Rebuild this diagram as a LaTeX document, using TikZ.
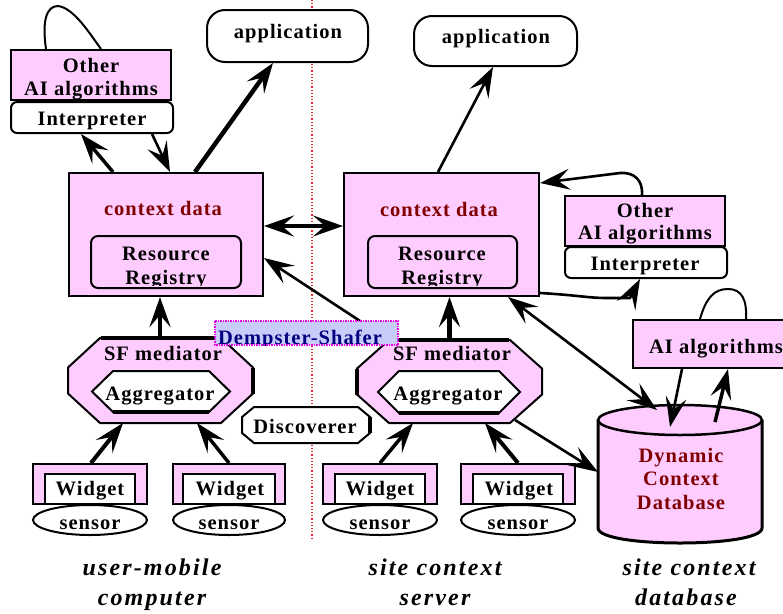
\documentclass[tikz,border=0pt]{standalone}
\usepackage{fontspec}
\setmainfont{Liberation Serif}
\newfontfamily\boxfont[LetterSpace=5]{Liberation Serif}
\newfontfamily\tierfont[LetterSpace=9]{Liberation Serif}
\usetikzlibrary{arrows.meta,shapes.geometric}

\definecolor{boxpink}{RGB}{255,204,255}
\definecolor{txtred}{RGB}{128,0,0}
\definecolor{dslav}{RGB}{200,204,248}
\definecolor{dsblue}{RGB}{0,0,128}
\definecolor{dsedge}{RGB}{230,0,230}
\definecolor{divred}{RGB}{235,40,40}

% octagon drawn on the border of a (blank) named node
\newcommand\octagonpath[4]{%
  \path[#4] ([xshift=#2]#1.north west) -- ([xshift=-#2]#1.north east)
   -- ([yshift=-#3]#1.north east) -- ([yshift=#3]#1.south east)
   -- ([xshift=-#2]#1.south east) -- ([xshift=#2]#1.south west)
   -- ([yshift=#3]#1.south west) -- ([yshift=-#3]#1.north west) -- cycle;}

\tikzset{
  lbl/.style={font=\boxfont\bfseries\fontsize{20.5}{24}\selectfont, anchor=base, inner sep=0pt},
  redlbl/.style={lbl, text=txtred},
  tierlbl/.style={font=\tierfont\bfseries\itshape\fontsize{24}{28}\selectfont, anchor=base, inner sep=0pt},
  pinkbox/.style={draw=black, line width=2pt, fill=boxpink},
  whitebox/.style={draw=black, line width=2pt, fill=white},
  zone/.style={draw=none, inner sep=0pt, outer sep=0pt},
  arr/.style={-{Stealth[length=30pt,width=21pt,inset=12pt]}, line width=2.6pt},
  darr/.style={{Stealth[length=30pt,width=21pt,inset=12pt]}-{Stealth[length=30pt,width=21pt,inset=12pt]}, line width=2.6pt},
  thin loop/.style={line width=2pt},
}

\begin{document}
\begin{tikzpicture}[x=1pt,y=-1pt]
\useasboundingbox[fill=white] (0,0) rectangle (783,613);

% tier divider
\draw[divred, dotted, line width=1.2pt] (312,0) -- (312,540);

% ---------------- user-mobile computer ----------------
\node[pinkbox, minimum width=160pt, minimum height=50pt] (oaiL) at (91,75) {};
\node[whitebox, rounded corners=6pt, minimum width=162pt, minimum height=31pt] (intL) at (92,117.5) {};
\node[lbl] (oaiLa) at (91,72) {Other};
\node[lbl] (oaiLb) at (91,95) {AI algorithms};
\node[lbl] (intLt) at (92,125) {Interpreter};
\draw[thin loop] ([xshift=36pt]oaiL.north west) .. controls (42,22) and (46,6) .. (58,6)
  .. controls (74,8) and (90,34) .. ([xshift=91pt]oaiL.north west);

\node[whitebox, rounded corners=18pt, minimum width=161pt, minimum height=52pt] (appL) at (287.5,36) {};
\node[lbl] (appLt) at (288,38) {application};

\node[pinkbox, minimum width=194pt, minimum height=123pt] (cdL) at (166,234.5) {};
\node[pinkbox, rounded corners=7pt, minimum width=150pt, minimum height=52pt] (rrL) at (166,262) {};
\node[redlbl] (cdLt) at (163,215) {context data};
\node[lbl] (rrLa) at (166,260) {Resource};
\begin{scope}
  \clip (91,236) rectangle (241,285);
  \node[lbl] (rrLb) at (166,284) {Registry};
\end{scope}

\node[zone, minimum width=185pt, minimum height=85pt] (sfL) at (160.5,380.5) {};
\octagonpath{sfL}{32pt}{29.5pt}{pinkbox}
\draw[line width=4.5pt] ([xshift=33pt]sfL.north west) -- ([xshift=-33pt]sfL.north east);
\draw[line width=4.5pt] ([yshift=-29.5pt]sfL.north east) -- ([yshift=29.5pt]sfL.south east);
\node[zone, minimum width=138pt, minimum height=41pt] (agL) at (161,391.5) {};
\octagonpath{agL}{21pt}{20.5pt}{whitebox}
\draw[line width=4.5pt] ([xshift=21pt]agL.south west) -- ([xshift=-21pt]agL.south east);
\node[lbl] (sfLt) at (163,360) {SF mediator};
\node[lbl] (agLt) at (160,400) {Aggregator};

\node[pinkbox, minimum width=114pt, minimum height=40pt] (w1) at (90,484) {};
\node[whitebox, minimum width=90pt, minimum height=30pt] (w1i) at (90,489) {};
\node[lbl] (w1t) at (90,495) {Widget};
\node[whitebox, ellipse, inner sep=0pt, minimum width=114pt, minimum height=30pt] (s1) at (90,520) {};
\node[lbl] (s1t) at (90,529) {sensor};

\node[pinkbox, minimum width=112pt, minimum height=40pt] (w2) at (229,484) {};
\node[whitebox, minimum width=92pt, minimum height=30pt] (w2i) at (229,489) {};
\node[lbl] (w2t) at (230,495) {Widget};
\node[whitebox, ellipse, inner sep=0pt, minimum width=112pt, minimum height=30pt] (s2) at (229,520) {};
\node[lbl] (s2t) at (229,529) {sensor};

% ---------------- site context server ----------------
\node[whitebox, rounded corners=18pt, minimum width=163pt, minimum height=50pt] (appR) at (495.5,41) {};
\node[lbl] (appRt) at (496,43) {application};

\node[pinkbox, minimum width=195pt, minimum height=123pt] (cdR) at (441.5,234.5) {};
\node[pinkbox, rounded corners=7pt, minimum width=149pt, minimum height=52pt] (rrR) at (442.5,262) {};
\node[redlbl] (cdRt) at (439,216) {context data};
\node[lbl] (rrRa) at (442,260) {Resource};
\begin{scope}
  \clip (368,236) rectangle (517,285);
  \node[lbl] (rrRb) at (442,284) {Registry};
\end{scope}

\node[pinkbox, minimum width=160pt, minimum height=50pt] (oaiR) at (645,221) {};
\node[whitebox, rounded corners=6pt, minimum width=162pt, minimum height=31pt] (intR) at (646,262.5) {};
\node[lbl] (oaiRa) at (645,217) {Other};
\node[lbl] (oaiRb) at (645,239) {AI algorithms};
\node[lbl] (intRt) at (645,270) {Interpreter};

\node[zone, minimum width=185pt, minimum height=83pt] (sfR) at (449.5,381.5) {};
\octagonpath{sfR}{32pt}{28.5pt}{pinkbox}
\draw[line width=4.5pt] ([xshift=33pt]sfR.north west) -- ([xshift=-33pt]sfR.north east);
\draw[line width=4.5pt] ([yshift=-28.5pt]sfR.north west) -- ([yshift=28.5pt]sfR.south west);
\node[zone, minimum width=142pt, minimum height=42pt] (agR) at (449,392) {};
\octagonpath{agR}{21pt}{21pt}{whitebox}
\draw[line width=4.5pt] ([xshift=21pt]agR.south west) -- ([xshift=-21pt]agR.south east);
\node[lbl] (sfRt) at (452,360) {SF mediator};
\node[lbl] (agRt) at (448,400) {Aggregator};

\node[zone, minimum width=128pt, minimum height=36pt] (disc) at (306,425) {};
\octagonpath{disc}{12pt}{10pt}{whitebox}
\draw[line width=4pt] ([yshift=-10pt]disc.north east) -- ([yshift=10pt]disc.south east);
\node[lbl] (disct) at (305,433) {Discoverer};

\node[pinkbox, minimum width=114pt, minimum height=40pt] (w3) at (380,484) {};
\node[whitebox, minimum width=90pt, minimum height=30pt] (w3i) at (380,489) {};
\node[lbl] (w3t) at (380,495) {Widget};
\node[whitebox, ellipse, inner sep=0pt, minimum width=114pt, minimum height=30pt] (s3) at (380,520) {};
\node[lbl] (s3t) at (380,529) {sensor};

\node[pinkbox, minimum width=114pt, minimum height=40pt] (w4) at (518,484) {};
\node[whitebox, minimum width=90pt, minimum height=30pt] (w4i) at (518,489) {};
\node[lbl] (w4t) at (519,495) {Widget};
\node[whitebox, ellipse, inner sep=0pt, minimum width=114pt, minimum height=30pt] (s4) at (518,520) {};
\node[lbl] (s4t) at (518,529) {sensor};

% ---------------- site context database ----------------
\node[pinkbox, minimum width=157pt, minimum height=48pt] (aiR) at (711.5,344) {};
\node[lbl] (aiRt) at (716,353) {AI algorithms};
\draw[thin loop] ([xshift=68pt]aiR.north west) .. controls (706,298) and (714,289) .. (728,289)
  .. controls (742,289) and (747,300) .. ([xshift=114pt]aiR.north west);

\node[zone, minimum width=164pt, minimum height=140pt] (db) at (680,475) {};
\fill[boxpink] (598,420) -- (598,528) .. controls (598,548) and (762,548) .. (762,528) -- (762,420) -- cycle;
\draw[line width=3pt] (598,420) -- (598,528) .. controls (598,548) and (762,548) .. (762,528) -- (762,420);
\draw[line width=2.5pt, fill=boxpink] (680,420) ellipse [x radius=82, y radius=15];
\node[redlbl] (dba) at (681,462) {Dynamic};
\node[redlbl] (dbb) at (681,485) {Context};
\node[redlbl] (dbc) at (681,509) {Database};

% ---------------- connectors ----------------
\draw[arr, line width=3.5pt] ([xshift=45pt]cdL.north west) -- ([xshift=71pt]intL.south west);
\draw[arr] ([xshift=142pt]intL.south west) -- ([xshift=102pt]cdL.north west);
\draw[arr, line width=4.5pt] ([xshift=127pt]cdL.north west) -- ([xshift=67pt]appL.south west);
\draw[darr, line width=4pt] ([yshift=8.5pt]cdL.east) -- ([yshift=8.5pt]cdR.west);
\draw[arr] ([xshift=32pt]sfR.north west) -- ([yshift=-23.5pt]cdL.east);
\draw[arr] ([xshift=95pt]cdR.north west) -- ([xshift=80pt]appR.south west);
\draw[arr] ([xshift=78pt]oaiR.north west) .. controls (643,180) and (634,172) .. (620,173)
  -- ([yshift=-11pt]cdR.north east);
\draw[arr] ([yshift=4pt]cdR.south east) .. controls (575,295) and (590,298) .. (605,298)
  -- (630,298) -- ([xshift=76pt]intR.south west);
\draw[arr, line width=4.5pt] ([xshift=-0.5pt]sfL.north) -- ([xshift=-6pt]cdL.south);
\draw[arr, line width=4.5pt] (sfR.north) -- ([xshift=8pt]cdR.south);
\draw[darr] ([xshift=-32pt]cdR.south east) -- ([xshift=59pt,yshift=-5pt]db.north west);
\draw[arr] ([xshift=-27pt,yshift=3pt]sfR.south east) -- ([yshift=-67pt]db.north west);
\draw[arr] ([xshift=50pt]aiR.south west) -- ([xshift=72pt,yshift=-22pt]db.north west);
\draw[arr, line width=3.5pt] ([xshift=117pt,yshift=-17pt]db.north west) -- ([xshift=96pt]aiR.south west);
\draw[arr, line width=4pt] ([xshift=59pt]w1.north west) -- ([xshift=55pt]sfL.south west);
\draw[arr, line width=3.5pt] (w2.north) -- ([xshift=129pt]sfL.south west);
\draw[arr, line width=3.5pt] (w3.north) -- ([xshift=56pt]sfR.south west);
\draw[arr, line width=4pt] (w4.north) -- ([xshift=128pt]sfR.south west);

% Dempster-Shafer tag
\node[zone, fill=dslav, minimum width=183pt, minimum height=24pt] (ds) at (306.5,333) {};
\begin{scope}
  \clip (215,321) rectangle (398,345);
  \node[lbl, text=dsblue] (dst) at (300,344) {Dempster-Shafer};
\end{scope}
\draw[dsedge, densely dotted, line width=1.5pt] (ds.north west) rectangle (ds.south east);

% tier captions
\node[tierlbl] (c1a) at (152,575) {user-mobile};
\node[tierlbl] (c1b) at (152,605) {computer};
\node[tierlbl] (c2a) at (435,575) {site context};
\node[tierlbl] (c2b) at (435,605) {server};
\node[tierlbl] (c3a) at (689,575) {site context};
\node[tierlbl] (c3b) at (686,605) {database};
\end{tikzpicture}
\end{document}
